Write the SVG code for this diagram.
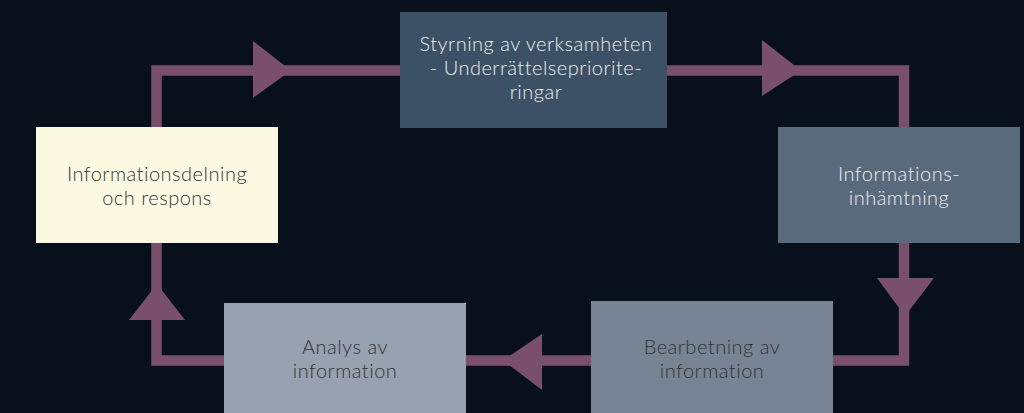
<svg xmlns="http://www.w3.org/2000/svg" width="1024" height="413" viewBox="0 0 1024 413">
<style>
.bg{fill:#07101b}
.conn{fill:none;stroke:#7a4f6b;stroke-width:10.5;stroke-linejoin:miter}
.head{fill:#7a4f6b}
text{font-family:Lato,"Noto Sans",sans-serif;font-size:20px;font-weight:300;letter-spacing:0.5px;text-anchor:middle;font-variant-ligatures:none}
.lt{fill:#eeeeee}
.dk{fill:#333333}
</style>
<rect class="bg" x="0" y="0" width="1024" height="413"/>
<g id="connectors">
<path class="conn" d="M156.5,127 V70.5 H400"/>
<polygon class="head" points="253,41 291,70.5 253,98"/>
<path class="conn" d="M667,70.5 H904 V127"/>
<polygon class="head" points="762,40 801,70.5 762,96"/>
<path class="conn" d="M904,243 V360.5 H833"/>
<polygon class="head" points="877,278 905,316 934,278"/>
<path class="conn" d="M591,360.5 H466"/>
<polygon class="head" points="542,334 503,360.5 542,390"/>
<path class="conn" d="M224,360.5 H156.5 V243"/>
<polygon class="head" points="129,320 157,284 185,320"/>
</g>
<g id="node-styrning">
<rect x="400" y="12" width="267" height="116" fill="#3d5166"/>
<text class="lt"><tspan x="536" y="51">Styrning av verksamheten</tspan><tspan x="536" y="75">- Underrättelsepriorite-</tspan><tspan x="536" y="99">ringar</tspan></text>
</g>
<g id="node-inhamtning">
<rect x="778" y="127" width="242" height="116" fill="#5a6a7d"/>
<text class="lt"><tspan x="899" y="181">Informations-</tspan><tspan x="899" y="205">inhämtning</tspan></text>
</g>
<g id="node-bearbetning">
<rect x="591" y="301" width="242" height="116" fill="#778494"/>
<text class="dk"><tspan x="712" y="354">Bearbetning av</tspan><tspan x="712" y="378">information</tspan></text>
</g>
<g id="node-analys">
<rect x="224" y="303" width="242" height="116" fill="#97a1b0"/>
<text class="dk"><tspan x="345" y="354">Analys av</tspan><tspan x="345" y="378">information</tspan></text>
</g>
<g id="node-delning">
<rect x="36" y="127" width="242" height="116" fill="#fcf9e3"/>
<text class="dk"><tspan x="157" y="181">Informationsdelning</tspan><tspan x="157" y="205">och respons</tspan></text>
</g>
</svg>
